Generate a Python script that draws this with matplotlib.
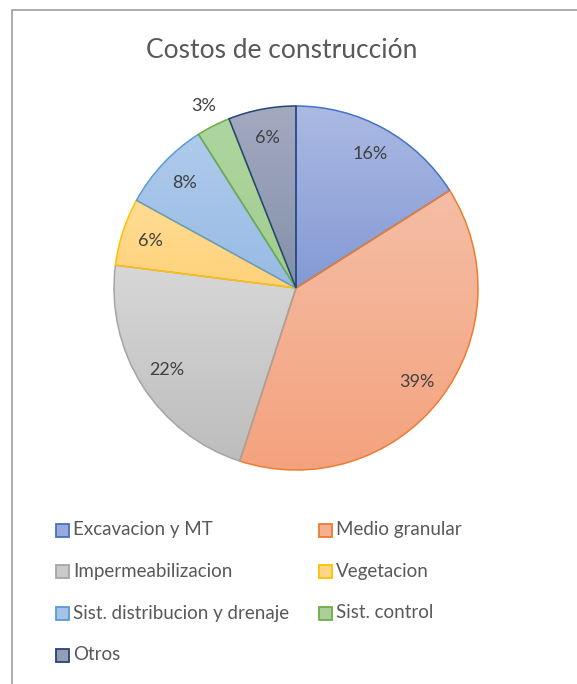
import numpy as np
import matplotlib
matplotlib.use("Agg")
import matplotlib.pyplot as plt
from matplotlib.patches import Rectangle
from matplotlib.colors import to_rgb

plt.rcParams['font.family'] = ['Lato', 'DejaVu Sans']

# Costos de construccion, porcentaje por partida
labels = ['Excavacion y MT', 'Medio granular', 'Impermeabilizacion', 'Vegetacion',
          'Sist. distribucion y drenaje', 'Sist. control', 'Otros']
shares = [16, 39, 22, 6, 8, 3, 6]

# borde y degradado (arriba -> abajo) de cada sector
edge_colors = ['#4472C4', '#ED7D31', '#A5A5A5', '#FFC000', '#5B9BD5', '#70AD47', '#264478']
top_colors = ['#ABBAE3', '#F5BEA5', '#D7D7D7', '#FFDC94', '#AFCBEB', '#AED5A0', '#A3AAC0']
bot_colors = ['#8499D5', '#F4A27E', '#BDBDBD', '#FFD27A', '#97BAE5', '#A3CD8E', '#8390AB']

W, H = 577, 684
fig = plt.figure(figsize=(W / 100, H / 100), dpi=100)
ax = fig.add_axes([0, 0, 1, 1])

cx, cy, r = 296, H - 288, 182
wedges, texts, autotexts = ax.pie(
    shares, colors=edge_colors, startangle=90, counterclock=False,
    center=(cx, cy), radius=r, autopct='%.0f%%', pctdistance=0.84,
    wedgeprops=dict(linewidth=1.1),
    textprops=dict(color='#404040', fontsize=13))

for w, ec, c0, c1 in zip(wedges, edge_colors, top_colors, bot_colors):
    w.set_facecolor('none')
    w.set_edgecolor(ec)
    w.set_zorder(2)
    ext = w.get_path().get_extents()
    grad = np.linspace(0, 1, 256)[:, None, None]
    img = (1 - grad) * np.array(to_rgb(c0)) + grad * np.array(to_rgb(c1))
    im = ax.imshow(img, extent=[ext.x0, ext.x1, ext.y0, ext.y1], origin='upper',
                   aspect='auto', interpolation='bilinear', zorder=1)
    im.set_clip_path(w)

# la etiqueta del sector pequeno va fuera
w = wedges[5]
mid = np.deg2rad((w.theta1 + w.theta2) / 2)
autotexts[5].set_position((cx + 1.12 * r * np.cos(mid), cy + 1.12 * r * np.sin(mid)))
for t in autotexts:
    t.set_zorder(3)

ax.set_xlim(0, W)
ax.set_ylim(0, H)
ax.set_aspect('auto')
ax.axis('off')

# titulo
ax.text(282, H - 50, 'Costos de construcción', ha='center', va='center',
        fontsize=19, color='#595959')

# leyenda en dos columnas
col_x = [56, 319]
row_y = [530, 571, 613, 655]
for i, (lab, ec, c0, c1) in enumerate(zip(labels, edge_colors, top_colors, bot_colors)):
    x = col_x[i % 2]
    y = H - row_y[i // 2]
    fill = 0.5 * (np.array(to_rgb(c0)) + np.array(to_rgb(c1)))
    ax.add_patch(Rectangle((x, y - 6.5), 13, 13, facecolor=fill, edgecolor=ec, linewidth=1.3))
    ax.text(x + 17, y, lab, ha='left', va='center', fontsize=13.5, color='#595959')

# marco del grafico
ax.add_patch(Rectangle((12, -5), W, H - 10 + 5, facecolor='none', edgecolor='#A6A6A6',
                       linewidth=1.3, zorder=0))

fig.savefig('out.png', dpi=100)
